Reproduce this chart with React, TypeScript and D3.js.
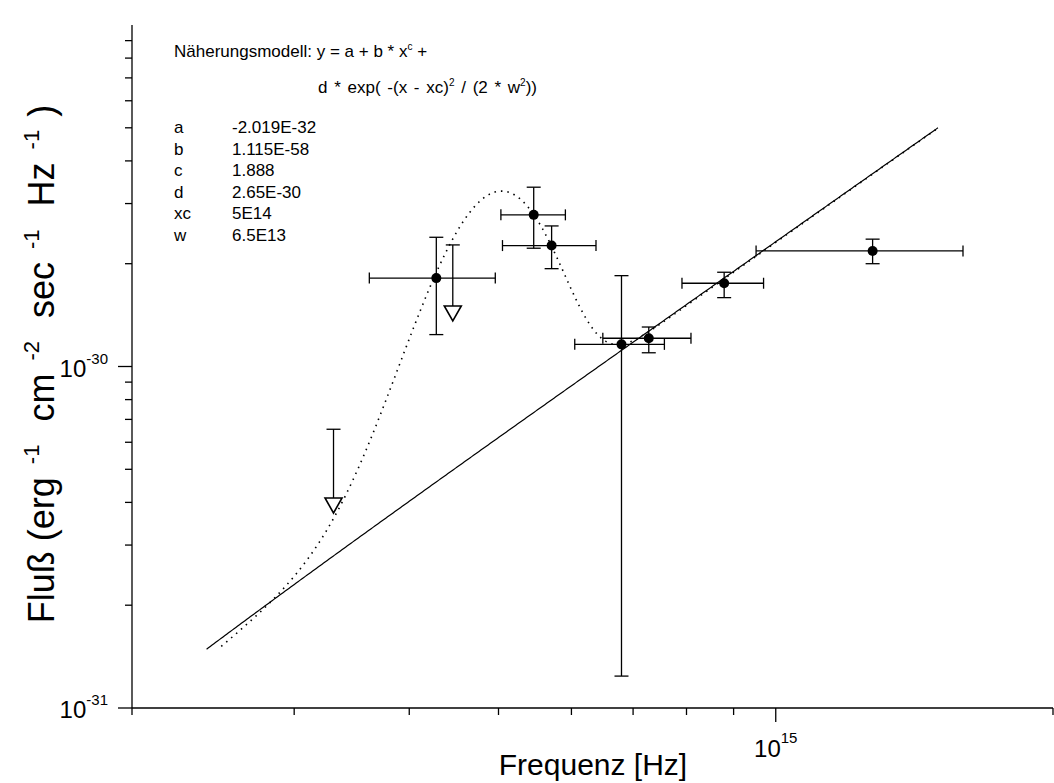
import React from 'react';
import * as d3 from 'd3';

const W = 1054;
const H = 783;

// axis domains
const xDomain = [2e14, 2e15];
const yDomain = [1e-31, 1e-29];

// measured points with error bars
const ptX = [4.28e14, 5.46e14, 5.71e14, 6.80e14, 7.28e14, 8.79e14, 1.274e15];
const ptY = [1.815e-30, 2.78e-30, 2.26e-30, 1.161e-30, 1.21e-30, 1.753e-30, 2.18e-30];
const ptXLo = [3.62e14, 5.03e14, 5.05e14, 6.05e14, 6.49e14, 7.91e14, 9.52e14];
const ptXHi = [4.96e14, 5.91e14, 6.38e14, 7.57e14, 8.09e14, 9.70e14, 1.597e15];
const ptYLo = [1.24e-30, 2.22e-30, 1.934e-30, 1.24e-31, 1.097e-30, 1.591e-30, 2.0e-30];
const ptYHi = [2.39e-30, 3.35e-30, 2.58e-30, 1.845e-30, 1.305e-30, 1.888e-30, 2.36e-30];

// upper limits
const limX = [3.31e14, 4.46e14];
const limY = [3.93e-31, 1.435e-30];
const limCap = [6.55e-31, 2.27e-30];

// model parameters
const paramNames = ['a', 'b', 'c', 'd', 'xc', 'w'];
const paramText = ['-2.019E-32', '1.115E-58', '1.888', '2.65E-30', '5E14', '6.5E13'];
const pA = -2.019e-32;
const pB = 1.115e-58;
const pC = 1.888;
const pD = 2.65e-30;
const pXc = 5e14;
const pW = 6.5e13;
// power-law line (solid) offset
const solidA = -1.0e-32;
const solidRange = [2.41e14, 1.5e15];
const dottedRange = [2.5e14, 1.5e15];

const FONT = '"Liberation Sans", Arial, sans-serif';

export default function App() {
  const left = 132, right = 1053, top = 25, bottom = 708;
  const x = d3.scaleLog().domain(xDomain).range([left, right]);
  const y = d3.scaleLog().domain(yDomain).range([bottom, top]);

  const isMajor = (v: number) => Math.abs(Math.log10(v) - Math.round(Math.log10(v))) < 1e-6;

  const sample = (r: number[], n: number) => {
    const lx = d3.scaleLinear().domain([0, n]).range([Math.log10(r[0]), Math.log10(r[1])]);
    return d3.range(n + 1).map((i) => Math.pow(10, lx(i)));
  };
  const solidPts = sample(solidRange, 400).map((v) => [v, solidA + pB * Math.pow(v, pC)] as [number, number]);
  const dotPts = sample(dottedRange, 600).map((v) => [
    v,
    pA + pB * Math.pow(v, pC) + pD * Math.exp(-((v - pXc) ** 2) / (2 * pW * pW)),
  ] as [number, number]);
  const line = d3.line<[number, number]>().x((d) => x(d[0])).y((d) => y(d[1]));

  const xt = x.ticks();
  const yt = y.ticks();
  const sw = 1.3;
  const fs = 17;
  const rowH = 21.6;
  const gap = 13;

  return (
    <svg width={W} height={H} style={{ position: 'absolute', left: 0, top: 0, background: '#fff' }} fontFamily={FONT}>
      <rect x={0} y={0} width={W} height={H} fill="#fff" />
      {/* axes */}
      <line x1={left} x2={right} y1={bottom} y2={bottom} stroke="#000" strokeWidth={sw} />
      <line x1={left} x2={left} y1={top} y2={bottom} stroke="#000" strokeWidth={sw} />
      {xt.map((v, i) => (
        <line key={'xt' + i} x1={x(v)} x2={x(v)} y1={bottom} y2={bottom + (isMajor(v) ? 14 : 7)} stroke="#000" strokeWidth={sw} />
      ))}
      {yt.map((v, i) => (
        <line key={'yt' + i} x1={left - (isMajor(v) ? 14 : 7)} x2={left} y1={y(v)} y2={y(v)} stroke="#000" strokeWidth={sw} />
      ))}
      {xt.filter(isMajor).map((v, i) => (
        <text key={'xl' + i} x={x(v)} y={757} textAnchor="middle" fontSize={24}>
          10<tspan dy={-14} fontSize={15}>{Math.round(Math.log10(v))}</tspan>
        </text>
      ))}
      {yt.filter(isMajor).map((v, i) => (
        <text key={'yl' + i} x={108} y={y(v) + 10} textAnchor="end" fontSize={24}>
          10<tspan dy={-13} fontSize={15}>{Math.round(Math.log10(v))}</tspan>
        </text>
      ))}
      {/* axis titles */}
      <text x={593} y={775} textAnchor="middle" fontSize={30}>Frequenz [Hz]</text>
      <text transform="translate(54,364) rotate(-90)" textAnchor="middle" fontSize={36}>
        Fluß (erg<tspan dx={gap} dy={-15} fontSize={22}>-1</tspan>
        <tspan dx={gap} dy={15}> cm</tspan><tspan dx={gap} dy={-15} fontSize={22}>-2</tspan>
        <tspan dx={gap} dy={15}> sec</tspan><tspan dx={gap} dy={-15} fontSize={22}>-1</tspan>
        <tspan dx={gap} dy={15}> Hz</tspan><tspan dx={gap} dy={-15} fontSize={22}>-1</tspan>
        <tspan dx={gap} dy={15}>)</tspan>
      </text>

      {/* curves */}
      <path d={line(solidPts) || ''} fill="none" stroke="#000" strokeWidth={1.2} />
      <path d={line(dotPts) || ''} fill="none" stroke="#000" strokeWidth={1.6} strokeDasharray="1.5 5" />

      {/* error bars & points */}
      {ptX.map((v, i) => {
        const cx = x(v), cy = y(ptY[i]);
        const x0 = x(ptXLo[i]), x1 = x(ptXHi[i]);
        const y0 = y(ptYLo[i]), y1 = y(ptYHi[i]);
        return (
          <g key={'p' + i} stroke="#000" strokeWidth={sw}>
            <line x1={x0} x2={x1} y1={cy} y2={cy} />
            <line x1={x0} x2={x0} y1={cy - 5.5} y2={cy + 5.5} />
            <line x1={x1} x2={x1} y1={cy - 5.5} y2={cy + 5.5} />
            <line x1={cx} x2={cx} y1={y0} y2={y1} />
            <line x1={cx - 7} x2={cx + 7} y1={y0} y2={y0} />
            <line x1={cx - 7} x2={cx + 7} y1={y1} y2={y1} />
            <circle cx={cx} cy={cy} r={5} fill="#000" stroke="none" />
          </g>
        );
      })}
      {limX.map((v, i) => {
        const cx = x(v), cy = y(limY[i]), cap = y(limCap[i]);
        return (
          <g key={'l' + i} stroke="#000" strokeWidth={sw}>
            <line x1={cx} x2={cx} y1={cap} y2={cy - 7} />
            <line x1={cx - 7} x2={cx + 7} y1={cap} y2={cap} />
            <path d={`M${cx - 8.5},${cy - 7}L${cx + 8.5},${cy - 7}L${cx},${cy + 8}Z`} fill="#fff" strokeWidth={1.6} />
          </g>
        );
      })}

      {/* model text */}
      <text x={174} y={57} fontSize={fs}>
        Näherungsmodell: y = a + b * x<tspan dy={-7} fontSize={10}>c</tspan><tspan dy={7}> +</tspan>
      </text>
      <text x={318} y={93} fontSize={fs} wordSpacing={2}>
        d * exp( -(x - xc)<tspan dy={-7} fontSize={10}>2</tspan><tspan dy={7}> / (2 * w</tspan>
        <tspan dy={-7} fontSize={10}>2</tspan><tspan dy={7}>))</tspan>
      </text>
      {paramNames.map((n, i) => (
        <g key={'pn' + i}>
          <text x={174} y={133 + i * rowH} fontSize={fs}>{n}</text>
          <text x={232} y={133 + i * rowH} fontSize={fs}>{paramText[i]}</text>
        </g>
      ))}
    </svg>
  );
}
